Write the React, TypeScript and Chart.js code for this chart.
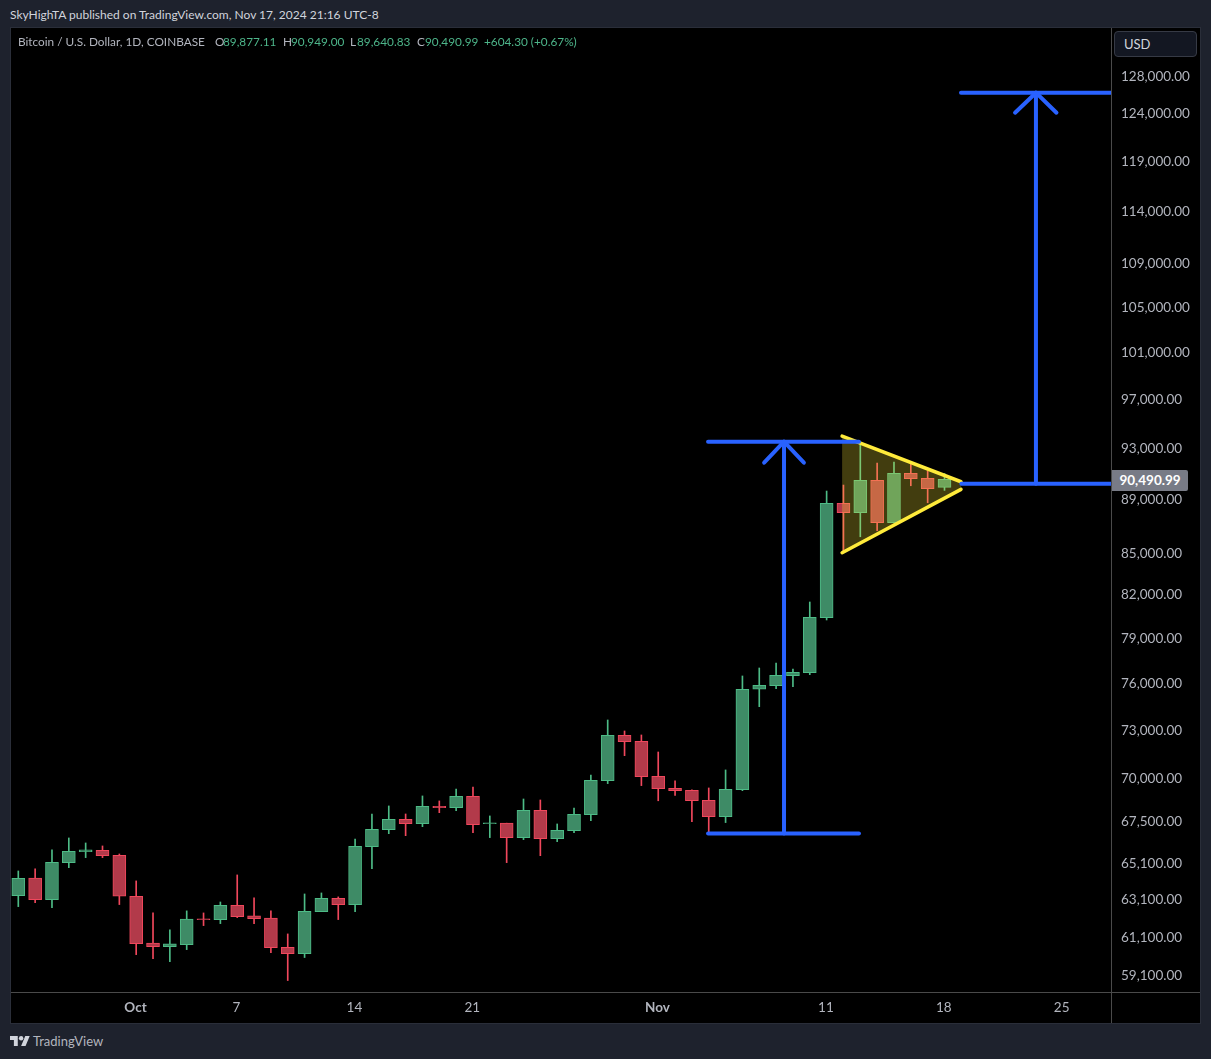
import { useEffect, useRef } from 'react';
import { Chart, registerables } from 'chart.js';

Chart.register(...registerables);

// daily candles, Sep 24 -> Nov 18
const opens = [
  63270, 64230, 63060, 65095, 65712, 65790, 65510, 63240, 60740, 60560,
  60665, 62020, 61985, 62750, 62180, 62060, 60530, 60200, 62410, 63130,
  62790, 65995, 66965, 67565, 67315, 68325, 68245, 68915, 67315, 67340,
  66510, 68090, 66450, 66905, 67830, 69850, 72625, 72250, 70110, 69395,
  69275, 68680, 67720, 69310, 75555, 75790, 76445, 76640, 80355, 88650,
  87935, 90420, 87185, 90965, 90580, 89877.11,
];
const highs = [
  64631, 64743, 65808, 66490, 66205, 66035, 65580, 64080, 62340, 61437,
  62450, 62340, 62930, 64410, 63150, 62450, 61225, 63365, 63420, 63205,
  66430, 67875, 68345, 67875, 68935, 68640, 69345, 69465, 67760, 67340,
  68755, 68697, 67295, 68225, 70190, 73587, 72895, 72645, 71590, 69830,
  69293, 69410, 70494, 76424, 76950, 77283, 76885, 81442, 89592, 90055,
  93340, 91775, 91855, 91670, 91170, 90949,
];
const lows = [
  62679, 62895, 62626, 64815, 65375, 65375, 62790, 60145, 59940, 59785,
  60405, 61665, 61770, 62090, 61770, 60250, 58820, 59995, 62410, 61985,
  62410, 64760, 66735, 66620, 67140, 67950, 68070, 66795, 66510, 65095,
  66395, 65485, 66280, 66795, 67485, 69670, 71365, 69550, 68650, 68960,
  67430, 66850, 67375, 69250, 74435, 75595, 75725, 76510, 80192, 85040,
  86140, 86590, 87165, 90000, 88695, 89640.83,
];
const closes = [
  64228, 63057, 65116, 65735, 65808, 65487, 63250, 60715, 60560, 60700,
  62005, 61985, 62750, 62145, 62035, 60510, 60200, 62430, 63130, 62790,
  66020, 66990, 67565, 67315, 68325, 68245, 68915, 67260, 67355, 66510,
  68090, 66450, 66930, 67855, 69870, 72625, 72230, 70090, 69370, 69250,
  68650, 67720, 69335, 75555, 75815, 76470, 76670, 80380, 88650, 87935,
  90420, 87185, 90965, 90555, 89770, 90490.99,
];

const priceTicks = [
  128000, 124000, 119000, 114000, 109000, 105000, 101000, 97000, 93000, 89000, 85000,
  82000, 79000, 76000, 73000, 70000, 67500, 65100, 63100, 61100, 59100,
];
const dayTicks = [7, 13, 20, 27, 38, 48, 55, 62];
const dayLabels = ['Oct', '7', '14', '21', 'Nov', '11', '18', '25'];

// drawings, in candle index / price
const flagTop = [{ x: 48.92, y: 93930 }, { x: 55.98, y: 90310 }];
const flagBottom = [{ x: 48.92, y: 84967 }, { x: 55.98, y: 89723 }];
const poleTop = [{ x: 40.96, y: 93470 }, { x: 49.92, y: 93470 }];
const poleBottom = [{ x: 40.96, y: 66747 }, { x: 49.92, y: 66747 }];
const poleArrow = [{ x: 45.47, y: 66747 }, { x: 45.47, y: 93470 }];
const poleHead = [{ x: 44.29, y: 91800 }, { x: 45.47, y: 93470 }, { x: 46.65, y: 91800 }];
const targetBase = [{ x: 56.0, y: 90155 }, { x: 64.89, y: 90155 }];
const targetTop = [{ x: 55.98, y: 126176 }, { x: 64.89, y: 126176 }];
const targetArrow = [{ x: 60.43, y: 90155 }, { x: 60.43, y: 126176 }];
const targetHead = [{ x: 59.19, y: 124025 }, { x: 60.43, y: 126176 }, { x: 61.65, y: 124025 }];

const UP_FILL = '#3e8b66';
const UP_LINE = '#4dbb86';
const DOWN_FILL = '#b23a4a';
const DOWN_LINE = '#f0475c';
const BLUE = '#2962ff';
const YELLOW = '#ffeb3b';

const FONT = 'Lato, sans-serif';

const blueLine = (data: { x: number; y: number }[]) => ({
  type: 'line' as const,
  data,
  borderColor: BLUE,
  borderWidth: 4,
  borderCapStyle: 'round' as const,
  borderJoinStyle: 'round' as const,
  pointRadius: 0,
  fill: false,
  clip: 0,
  order: 1,
});

const ohlcLegend: { text: string; left: number; color: string }[] = [
  { text: 'Bitcoin / U.S. Dollar, 1D, COINBASE', left: 18, color: '#b2b5be' },
  { text: 'O', left: 215, color: '#b2b5be' },
  { text: '89,877.11', left: 223, color: '#4db58a' },
  { text: 'H', left: 283, color: '#b2b5be' },
  { text: '90,949.00', left: 291, color: '#4db58a' },
  { text: 'L', left: 350, color: '#b2b5be' },
  { text: '89,640.83', left: 357, color: '#4db58a' },
  { text: 'C', left: 417, color: '#b2b5be' },
  { text: '90,490.99', left: 425, color: '#4db58a' },
  { text: '+604.30 (+0.67%)', left: 484, color: '#4db58a' },
];

const App = () => {
  const canvasRef = useRef<HTMLCanvasElement | null>(null);

  useEffect(() => {
    document.body.style.margin = '0';
    if (!canvasRef.current) return;
    const isUp = (i: number) => closes[i] >= opens[i];

    const chart = new Chart(canvasRef.current, {
      type: 'bar',
      data: {
        datasets: [
          blueLine(poleTop),
          blueLine(poleBottom),
          blueLine(poleArrow),
          blueLine(poleHead),
          blueLine(targetBase),
          blueLine(targetTop),
          blueLine(targetArrow),
          blueLine(targetHead),
          {
            type: 'line',
            data: flagTop,
            borderColor: YELLOW,
            borderWidth: 3.5,
            borderCapStyle: 'round',
            pointRadius: 0,
            backgroundColor: 'rgba(255, 235, 59, 0.26)',
            fill: '+1',
            order: 2,
          },
          {
            type: 'line',
            data: flagBottom,
            borderColor: YELLOW,
            borderWidth: 3.5,
            borderCapStyle: 'round',
            pointRadius: 0,
            fill: false,
            order: 2,
          },
          {
            type: 'bar',
            data: opens.map((o, i) => ({ x: i, y: [o, closes[i]] })),
            backgroundColor: opens.map((_, i) => (isUp(i) ? UP_FILL : DOWN_FILL)),
            borderColor: opens.map((_, i) => (isUp(i) ? UP_LINE : DOWN_LINE)),
            borderWidth: 1,
            borderSkipped: false,
            barThickness: 13,
            grouped: false,
            order: 3,
          },
          {
            type: 'bar',
            data: lows.map((l, i) => ({ x: i, y: [l, highs[i]] })),
            backgroundColor: opens.map((_, i) => (isUp(i) ? UP_LINE : DOWN_LINE)),
            borderWidth: 0,
            barThickness: 1,
            grouped: false,
            order: 4,
          },
        ],
      } as any,
      options: {
        animation: false,
        responsive: false,
        maintainAspectRatio: false,
        layout: { padding: 0 },
        events: [],
        plugins: {
          legend: { display: false },
          tooltip: { enabled: false },
        },
        scales: {
          x: {
            type: 'linear',
            offset: false,
            bounds: 'data',
            min: -0.4335,
            max: 64.887,
            grid: { display: false, drawTicks: false, offset: false },
            border: { display: false },
            afterBuildTicks: (scale: any) => {
              scale.ticks = dayTicks.map(value => ({ value }));
            },
            afterFit: (scale: any) => {
              scale.height = 31;
              scale.paddingLeft = 0;
              scale.paddingRight = 0;
            },
            ticks: {
              autoSkip: false,
              maxRotation: 0,
              minRotation: 0,
              padding: 8,
              labelOffset: -0.7,
              color: '#b2b5be',
              font: (ctx: any) => ({
                family: FONT,
                size: 13.5,
                weight: ctx.index === 0 || ctx.index === 4 ? 'bold' : 'normal',
              }),
              callback: (value: any) => dayLabels[dayTicks.indexOf(Number(value))],
            },
          },
          y: {
            type: 'logarithmic',
            position: 'right',
            bounds: 'data',
            min: 58244,
            max: 133391,
            grid: { display: false, drawTicks: false },
            border: { display: false },
            afterBuildTicks: (scale: any) => {
              scale.ticks = priceTicks.map(value => ({ value }));
            },
            afterFit: (scale: any) => {
              scale.width = 89;
              scale.paddingTop = 0;
              scale.paddingBottom = 0;
            },
            ticks: {
              autoSkip: false,
              padding: 10,
              labelOffset: 1,
              color: '#b2b5be',
              font: { family: FONT, size: 13.5 },
              callback: (value: any) =>
                Number(value).toLocaleString('en-US', { minimumFractionDigits: 2, maximumFractionDigits: 2 }),
            },
          },
        },
      } as any,
    });

    return () => {
      chart.destroy();
    };
  }, []);

  return (
    <div style={{ position: 'relative', width: 1211, height: 1059, background: '#1e222d', overflow: 'hidden', fontFamily: FONT }}>
      <div style={{ position: 'absolute', left: 10, top: 8, fontSize: 12, lineHeight: '14px', color: '#d1d4dc', whiteSpace: 'nowrap' }}>
        SkyHighTA published on TradingView.com, Nov 17, 2024 21:16 UTC-8
      </div>
      <div style={{ position: 'absolute', left: 10, top: 27, width: 1191, height: 997, boxSizing: 'border-box', border: '1px solid #2a2e39', background: '#000' }} />
      <div style={{ position: 'absolute', left: 11, top: 28, width: 1189, height: 995 }}>
        <canvas ref={canvasRef} width={1189} height={995} style={{ display: 'block', width: 1189, height: 995 }} />
      </div>
      <div style={{ position: 'absolute', left: 1111, top: 28, width: 1, height: 995, background: '#4a4a4a' }} />
      <div style={{ position: 'absolute', left: 11, top: 992, width: 1189, height: 1, background: '#4a4a4a' }} />
      {ohlcLegend.map(item => (
        <span key={item.left} style={{ position: 'absolute', left: item.left, top: 35, fontSize: 11.8, lineHeight: '14px', color: item.color, whiteSpace: 'nowrap' }}>
          {item.text}
        </span>
      ))}
      <div style={{ position: 'absolute', left: 1114, top: 31, width: 83, height: 26, boxSizing: 'border-box', border: '1px solid #363a45', borderRadius: 4, background: '#131722', color: '#d1d4dc', fontSize: 13, lineHeight: '24px', paddingLeft: 9 }}>
        USD
      </div>
      <div style={{ position: 'absolute', left: 1112, top: 470, width: 76, height: 21, background: '#787b86', borderRadius: '0 2px 2px 0', color: '#fff', fontSize: 13.5, fontWeight: 700, lineHeight: '21px', textAlign: 'center' }}>
        90,490.99
      </div>
      <svg style={{ position: 'absolute', left: 10, top: 1036 }} width="20" height="10" viewBox="0 4 36 18">
        <path fill="#d1d4dc" d="M14 22H7V11H0V4h14v18zM28 22h-8l7.5-18h8L28 22z" />
        <circle cx="20" cy="8" r="4" fill="#d1d4dc" />
      </svg>
      <div style={{ position: 'absolute', left: 33, top: 1033, fontSize: 13, lineHeight: '16px', color: '#b2b5be' }}>TradingView</div>
    </div>
  );
};

export default App;
